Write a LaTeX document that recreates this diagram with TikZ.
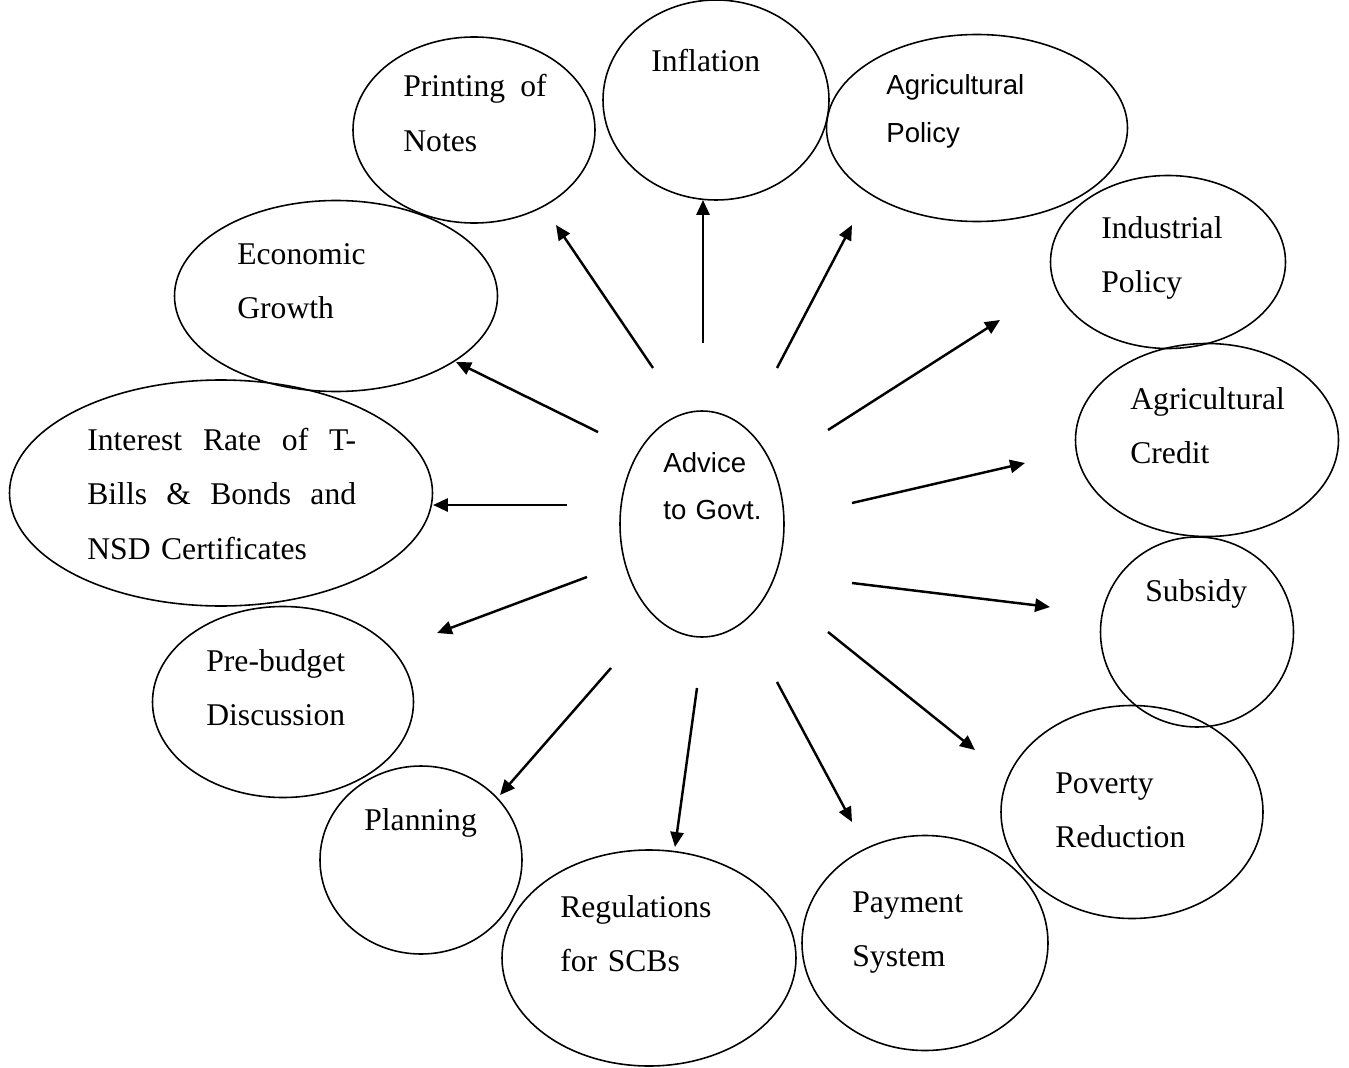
\documentclass[tikz,border=0pt]{standalone}
\usepackage{fontspec}
\setmainfont{Liberation Serif}
\setsansfont{Liberation Sans}
\usetikzlibrary{shapes.geometric}
\usetikzlibrary{arrows.meta}

\newcommand{\fullline}[2]{\leavevmode\hbox to #1{#2}}

\tikzset{
  bubble/.style 2 args={ellipse, draw, line width=0.9pt, inner sep=0pt,
    minimum width=#1*0.02cm, minimum height=#2*0.02cm},
  words/.style={anchor=base west, inner sep=0pt, text width=8cm, align=left,
    font=\fontsize{18}{31.2}\selectfont},
  swords/.style={words, font=\sffamily\fontsize{15.7}{27.2}\selectfont},
  link/.style={-{Triangle[length=8.5pt,width=7.5pt]}, line width=1.4pt}
}

\begin{document}
\begin{tikzpicture}[x=0.02cm, y=-0.02cm]
\useasboundingbox (0,0) rectangle (1349,1068);

% the bubbles
\node[bubble={164}{226}] (advice) at (702,524) {};
\node[bubble={242}{186}] (notes) at (474,130) {};
\node[bubble={226}{200}] (inflation) at (716,100) {};
\node[bubble={301}{187}] (agripolicy) at (977,128) {};
\node[bubble={235}{173}] (indpolicy) at (1168,262) {};
\node[bubble={323}{191}] (growth) at (336,296) {};
\node[bubble={263}{193}] (credit) at (1207,440) {};
\node[bubble={423}{226}] (interest) at (221,493) {};
\node[bubble={193}{190}] (subsidy) at (1197,632) {};
\node[bubble={261}{191}] (prebudget) at (283,702) {};
\node[bubble={262}{213}] (poverty) at (1132,812) {};
\node[bubble={202}{188}] (planning) at (421,860) {};
\node[bubble={294}{216}] (scb) at (649,958) {};
\node[bubble={246}{215}] (payment) at (925,943) {};

% the texts
\node[swords] (advice-t) at (663,472) {Advice\\to Govt.};
\node[words] (notes-t) at (403,97) {\fullline{81.6pt}{Printing\hfill of}\\Notes};
\node[words] (inflation-t) at (651,72) {Inflation};
\node[swords] (agripolicy-t) at (886,95) {Agricultural\\Policy};
\node[words] (indpolicy-t) at (1101,238) {Industrial\\Policy};
\node[words] (growth-t) at (237,264) {Economic\\Growth};
\node[words] (credit-t) at (1130,409) {Agricultural\\Credit};
\node[words] (interest-t) at (87,450) {\fullline{153pt}{Interest\hfill Rate\hfill of\hfill T-}\\
  \fullline{153pt}{Bills\hfill \&\hfill Bonds\hfill and}\\NSD Certificates};
\node[words] (subsidy-t) at (1145,601) {Subsidy};
\node[words] (prebudget-t) at (206,671) {Pre-budget\\Discussion};
\node[words] (poverty-t) at (1055,793) {Poverty\\Reduction};
\node[words] (planning-t) at (364,830) {Planning};
\node[words] (scb-t) at (560,917) {Regulations\\for SCBs};
\node[words] (payment-t) at (852,912) {Payment\\System};

% arrow ends
\coordinate (notes-s) at (653,368);      \coordinate (notes-e) at (556,225);
\coordinate (inflation-s) at (703,343);  \coordinate (inflation-e) at (703,200);
\coordinate (agripolicy-s) at (777,368); \coordinate (agripolicy-e) at (852,225);
\coordinate (indpolicy-s) at (828,430);  \coordinate (indpolicy-e) at (1000,320);
\coordinate (credit-s) at (852,503);     \coordinate (credit-e) at (1025,463);
\coordinate (subsidy-s) at (852,583);    \coordinate (subsidy-e) at (1050,607);
\coordinate (poverty-s) at (828,632);    \coordinate (poverty-e) at (975,750);
\coordinate (payment-s) at (777,682);    \coordinate (payment-e) at (852,822);
\coordinate (scb-s) at (697,688);        \coordinate (scb-e) at (675,847);
\coordinate (planning-s) at (611,668);   \coordinate (planning-e) at (500,795);
\coordinate (prebudget-s) at (587,577);  \coordinate (prebudget-e) at (437,633);
\coordinate (interest-s) at (567,505);   \coordinate (interest-e) at (433,505);
\coordinate (growth-s) at (598,432);     \coordinate (growth-e) at (456,362);

\foreach \n in {notes,inflation,agripolicy,indpolicy,credit,subsidy,poverty,
  payment,scb,planning,prebudget,interest,growth}
  \draw[link] (\n-s) -- (\n-e);
\end{tikzpicture}
\end{document}
